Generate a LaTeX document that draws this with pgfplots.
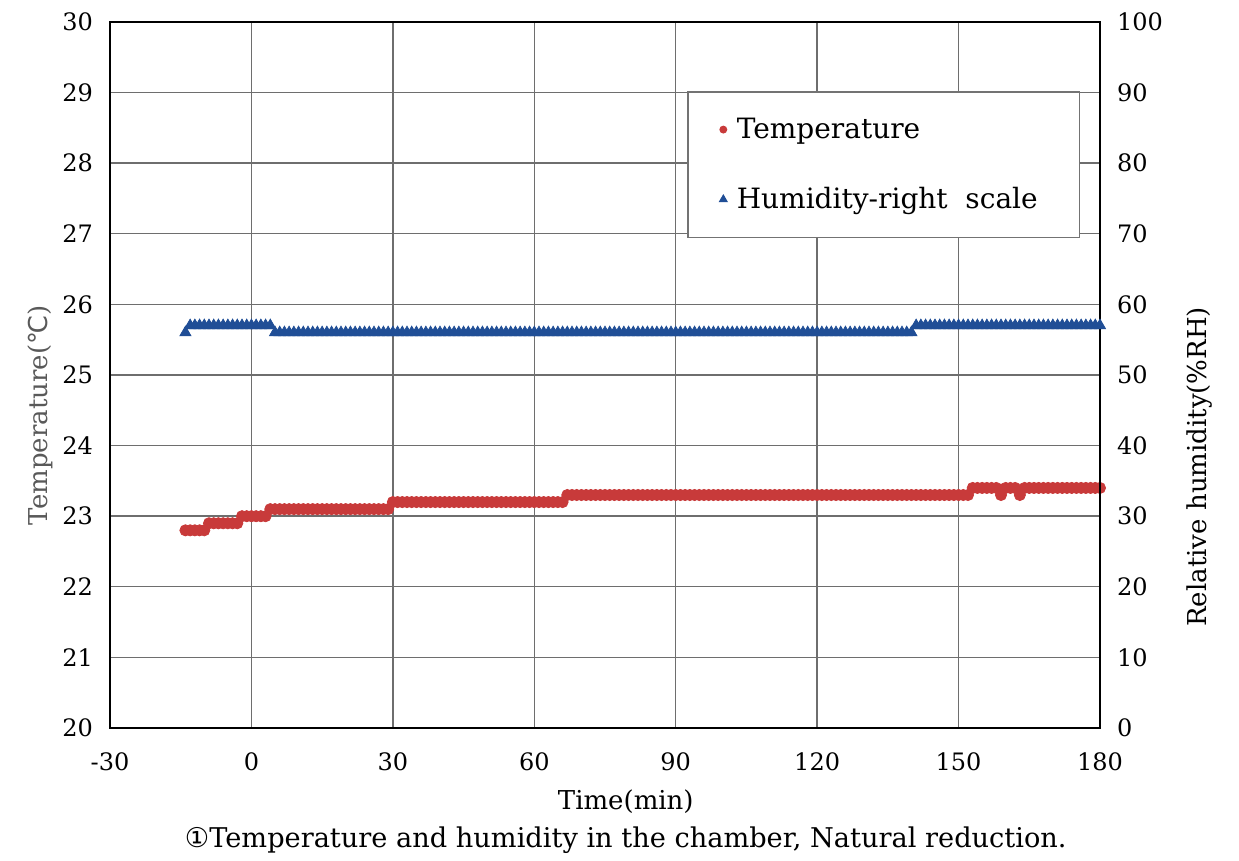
\documentclass[border=0pt]{standalone}
\usepackage{fontspec}
\setmainfont{DejaVu Serif}
\newfontfamily\sym{DejaVu Sans}
\usepackage{pgfplots}
\pgfplotsset{compat=1.18}
\definecolor{tred}{RGB}{200,58,58}
\definecolor{hblue}{RGB}{32,78,150}
\definecolor{gridc}{RGB}{110,110,110}
\begin{document}
\begin{tikzpicture}
\useasboundingbox (-55pt,-66.5pt) rectangle (564.5pt,364pt);
\begin{axis}[
  name=ax,
  scale only axis, width=495pt, height=353pt,
  xmin=-30, xmax=180, ymin=20, ymax=30,
  xtick={-30,0,30,60,90,120,150,180},
  xticklabels={-30,0,30,60,90,120,150,180},
  ytick={20,21,22,23,24,25,26,27,28,29,30},
  yticklabels={20,21,22,23,24,25,26,27,28,29,30},
  ytick pos=left, xtick pos=bottom,
  major tick length=0pt,
  grid=major,
  major grid style={gridc, line width=0.7pt},
  axis line style={black, line width=0.9pt},
  tick label style={font=\fontsize{12}{14}\selectfont, text=black},
  yticklabel style={xshift=-5pt},
  xticklabel style={yshift=-9pt},
  clip=false,
]
\addplot[only marks, mark=*, mark size=2.8pt, color=tred, mark options={draw=tred, fill=tred}] coordinates {
(-14,22.8)(-13,22.8)(-12,22.8)(-11,22.8)(-10,22.8)
(-9,22.9)(-8,22.9)(-7,22.9)(-6,22.9)(-5,22.9)(-4,22.9)(-3,22.9)
(-2,23.0)(-1,23.0)(0,23.0)(1,23.0)(2,23.0)(3,23.0)
(4,23.1)(5,23.1)(6,23.1)(7,23.1)(8,23.1)(9,23.1)(10,23.1)(11,23.1)(12,23.1)(13,23.1)
(14,23.1)(15,23.1)(16,23.1)(17,23.1)(18,23.1)(19,23.1)(20,23.1)(21,23.1)(22,23.1)(23,23.1)
(24,23.1)(25,23.1)(26,23.1)(27,23.1)(28,23.1)(29,23.1)
(30,23.2)(31,23.2)(32,23.2)(33,23.2)(34,23.2)(35,23.2)(36,23.2)(37,23.2)(38,23.2)(39,23.2)
(40,23.2)(41,23.2)(42,23.2)(43,23.2)(44,23.2)(45,23.2)(46,23.2)(47,23.2)(48,23.2)(49,23.2)
(50,23.2)(51,23.2)(52,23.2)(53,23.2)(54,23.2)(55,23.2)(56,23.2)(57,23.2)(58,23.2)(59,23.2)
(60,23.2)(61,23.2)(62,23.2)(63,23.2)(64,23.2)(65,23.2)(66,23.2)
(67,23.3)(68,23.3)(69,23.3)(70,23.3)(71,23.3)(72,23.3)(73,23.3)(74,23.3)(75,23.3)(76,23.3)
(77,23.3)(78,23.3)(79,23.3)(80,23.3)(81,23.3)(82,23.3)(83,23.3)(84,23.3)(85,23.3)(86,23.3)
(87,23.3)(88,23.3)(89,23.3)(90,23.3)(91,23.3)(92,23.3)(93,23.3)(94,23.3)(95,23.3)(96,23.3)
(97,23.3)(98,23.3)(99,23.3)(100,23.3)(101,23.3)(102,23.3)(103,23.3)(104,23.3)(105,23.3)(106,23.3)
(107,23.3)(108,23.3)(109,23.3)(110,23.3)(111,23.3)(112,23.3)(113,23.3)(114,23.3)(115,23.3)(116,23.3)
(117,23.3)(118,23.3)(119,23.3)(120,23.3)(121,23.3)(122,23.3)(123,23.3)(124,23.3)(125,23.3)(126,23.3)
(127,23.3)(128,23.3)(129,23.3)(130,23.3)(131,23.3)(132,23.3)(133,23.3)(134,23.3)(135,23.3)(136,23.3)
(137,23.3)(138,23.3)(139,23.3)(140,23.3)(141,23.3)(142,23.3)(143,23.3)(144,23.3)(145,23.3)(146,23.3)
(147,23.3)(148,23.3)(149,23.3)(150,23.3)(151,23.3)(152,23.3)
(153,23.4)(154,23.4)(155,23.4)(156,23.4)(157,23.4)(158,23.4)(159,23.3)(160,23.4)(161,23.4)(162,23.4)
(163,23.3)(164,23.4)(165,23.4)(166,23.4)(167,23.4)(168,23.4)(169,23.4)(170,23.4)(171,23.4)(172,23.4)
(173,23.4)(174,23.4)(175,23.4)(176,23.4)(177,23.4)(178,23.4)(179,23.4)(180,23.4)
};
\node[rotate=90, font=\fontsize{13}{15}\selectfont, text=black!65] at (axis description cs:-0.0707,0.443) {Temperature({\sym ℃})};
\node[font=\fontsize{13}{15}\selectfont] at (axis description cs:0.521,-0.105) {Time(min)};
\node[font=\fontsize{13.6}{15}\selectfont] at (axis description cs:0.521,-0.159) {{\sym ①}Temperature and humidity in the chamber, Natural reduction.};
\end{axis}
\begin{axis}[
  scale only axis, width=495pt, height=353pt,
  xmin=-30, xmax=180, ymin=0, ymax=100,
  axis x line=none,
  axis y line*=right,
  ytick={0,10,20,30,40,50,60,70,80,90,100},
  yticklabels={0,10,20,30,40,50,60,70,80,90,100},
  major tick length=0pt,
  axis line style={black, line width=0.9pt},
  tick label style={font=\fontsize{12}{14}\selectfont, text=black},
  yticklabel style={xshift=5pt},
  clip=false,
  legend style={at={(0.583,0.902)}, anchor=north west, draw=black!55, fill=white,
    font=\fontsize{14}{16}\selectfont, row sep=19pt, inner xsep=16pt, inner ysep=11pt, line width=0.7pt,
    nodes={inner xsep=5pt}},
  legend cell align=left,
]
\addlegendimage{only marks, mark=*, mark size=1.6pt, color=tred, mark options={draw=tred, fill=tred}}
\addlegendentry{Temperature}
\addlegendimage{only marks, mark=triangle*, mark size=2pt, color=hblue, mark options={draw=hblue, fill=hblue}}
\addlegendentry{Humidity-right\ \ scale}
\addplot[forget plot, only marks, mark=triangle*, mark size=3.2pt, color=hblue, mark options={draw=hblue, fill=hblue}] coordinates {
(-14,56)(-13,57)(-12,57)(-11,57)(-10,57)(-9,57)(-8,57)(-7,57)(-6,57)(-5,57)(-4,57)
(-3,57)(-2,57)(-1,57)(0,57)(1,57)(2,57)(3,57)(4,57)
(5,56)(6,56)(7,56)(8,56)(9,56)(10,56)(11,56)(12,56)(13,56)(14,56)
(15,56)(16,56)(17,56)(18,56)(19,56)(20,56)(21,56)(22,56)(23,56)(24,56)
(25,56)(26,56)(27,56)(28,56)(29,56)(30,56)(31,56)(32,56)(33,56)(34,56)
(35,56)(36,56)(37,56)(38,56)(39,56)(40,56)(41,56)(42,56)(43,56)(44,56)
(45,56)(46,56)(47,56)(48,56)(49,56)(50,56)(51,56)(52,56)(53,56)(54,56)
(55,56)(56,56)(57,56)(58,56)(59,56)(60,56)(61,56)(62,56)(63,56)(64,56)
(65,56)(66,56)(67,56)(68,56)(69,56)(70,56)(71,56)(72,56)(73,56)(74,56)
(75,56)(76,56)(77,56)(78,56)(79,56)(80,56)(81,56)(82,56)(83,56)(84,56)
(85,56)(86,56)(87,56)(88,56)(89,56)(90,56)(91,56)(92,56)(93,56)(94,56)
(95,56)(96,56)(97,56)(98,56)(99,56)(100,56)(101,56)(102,56)(103,56)(104,56)
(105,56)(106,56)(107,56)(108,56)(109,56)(110,56)(111,56)(112,56)(113,56)(114,56)
(115,56)(116,56)(117,56)(118,56)(119,56)(120,56)(121,56)(122,56)(123,56)(124,56)
(125,56)(126,56)(127,56)(128,56)(129,56)(130,56)(131,56)(132,56)(133,56)(134,56)
(135,56)(136,56)(137,56)(138,56)(139,56)(140,56)
(141,57)(142,57)(143,57)(144,57)(145,57)(146,57)(147,57)(148,57)(149,57)(150,57)
(151,57)(152,57)(153,57)(154,57)(155,57)(156,57)(157,57)(158,57)(159,57)(160,57)
(161,57)(162,57)(163,57)(164,57)(165,57)(166,57)(167,57)(168,57)(169,57)(170,57)
(171,57)(172,57)(173,57)(174,57)(175,57)(176,57)(177,57)(178,57)(179,57)(180,57)
};
\node[rotate=90, font=\fontsize{13}{15}\selectfont] at (axis description cs:1.101,0.37) {Relative humidity(\%RH)};
\end{axis}
\end{tikzpicture}
\end{document}
